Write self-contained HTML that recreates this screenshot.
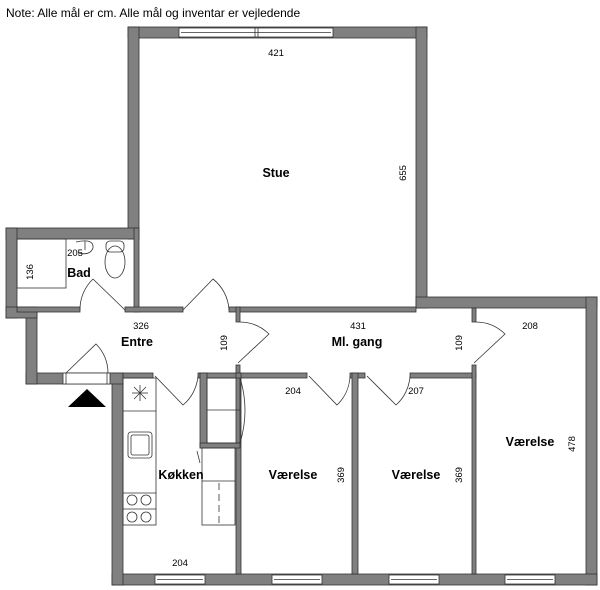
<!DOCTYPE html>
<html><head><meta charset="utf-8"><style>
html,body{margin:0;padding:0;background:#fff;}
svg{display:block;}
text{font-family:"Liberation Sans",sans-serif;fill:#000;}
.l{font-size:12.5px;font-weight:bold;}
.d{font-size:9.5px;}
</style></head><body>
<svg width="600" height="590" viewBox="0 0 600 590" xmlns="http://www.w3.org/2000/svg">
<text x="6" y="17" style="font-size:12px">Note: Alle mål er cm. Alle mål og inventar er vejledende</text>
<g fill="#808080" stroke="#333" stroke-width="0.8">
<rect x="128" y="27" width="299" height="11"/>
<rect x="128" y="27" width="11" height="212"/>
<rect x="416" y="27" width="11" height="281"/>
<rect x="416" y="297" width="181" height="11"/>
<rect x="586" y="297" width="11" height="288"/>
<rect x="112" y="574" width="485" height="11"/>
<rect x="112" y="373" width="11" height="212"/>
<rect x="26" y="373" width="97" height="11"/>
<rect x="26" y="308" width="11" height="76"/>
<rect x="6" y="228" width="133" height="11"/>
<rect x="6" y="228" width="11" height="90"/>
<rect x="6" y="307" width="31" height="11"/>
<rect x="134" y="228" width="5" height="84"/>
<rect x="17" y="307" width="63" height="5"/>
<rect x="125" y="307" width="58" height="5"/>
<rect x="229" y="307" width="187" height="5"/>
<rect x="236" y="307" width="4" height="15"/>
<rect x="236" y="365" width="4" height="13"/>
<rect x="123" y="373" width="30" height="5"/>
<rect x="198" y="373" width="109" height="5"/>
<rect x="350" y="373" width="15" height="5"/>
<rect x="410" y="373" width="66" height="5"/>
<rect x="472" y="308" width="4" height="14"/>
<rect x="472" y="365" width="4" height="209"/>
<rect x="352" y="373" width="6" height="201"/>
<rect x="236" y="373" width="5" height="201"/>
<rect x="200" y="373" width="7" height="75"/>
<rect x="200" y="443" width="40" height="5"/>
</g>
<g fill="#fff" stroke="#333" stroke-width="0.8">
<rect x="179" y="28" width="154" height="9"/>
<line x1="181" y1="32.5" x2="331" y2="32.5"/>
<line x1="255" y1="28" x2="255" y2="37"/><line x1="258" y1="28" x2="258" y2="37"/>
<rect x="155" y="575" width="50" height="9"/><line x1="157" y1="579.5" x2="203" y2="579.5"/>
<rect x="272" y="575" width="50" height="9"/><line x1="274" y1="579.5" x2="320" y2="579.5"/>
<rect x="389" y="575" width="50" height="9"/><line x1="391" y1="579.5" x2="437" y2="579.5"/>
<rect x="505" y="575" width="50" height="9"/><line x1="507" y1="579.5" x2="553" y2="579.5"/>
<rect x="63" y="373" width="47" height="11"/><line x1="66" y1="373" x2="66" y2="384"/><line x1="107" y1="373" x2="107" y2="384"/>
</g>
<polygon points="68,407 87,389 106,407" fill="#000"/>
<g fill="none" stroke="#333" stroke-width="0.8">
<path d="M125,310 L93,279 A42,42 0 0 0 80,310"/>
<path d="M183,310 L213,279 A42,42 0 0 1 229,310"/>
<path d="M238,363 L269,334 A42,42 0 0 0 240,322"/>
<path d="M474,363 L505,334 A42,42 0 0 0 476,322"/>
<path d="M155,376 L183,405 A42,42 0 0 0 198,376"/>
<path d="M309,376 L337,405 A42,42 0 0 0 350,376"/>
<path d="M367,376 L396,405 A42,42 0 0 0 410,376"/>
<path d="M66,373 L96,344 A42,42 0 0 1 108,373"/>
<path d="M240,378 Q250,410 240,443"/>
<line x1="197" y1="451" x2="200" y2="463"/>
<rect x="17" y="239" width="49" height="49"/>
<ellipse cx="115" cy="262" rx="10" ry="16"/>
<rect x="106" y="241" width="18" height="11" rx="4"/>
<path d="M76,242 Q94,238 93,248 Q90,256 78,253"/>
<line x1="85" y1="241" x2="85" y2="250"/>
<rect x="123" y="378" width="33" height="147"/>
<line x1="123" y1="411" x2="156" y2="411"/>
<line x1="123" y1="493" x2="156" y2="493"/>
<line x1="123" y1="509" x2="156" y2="509"/>
<rect x="128" y="432" width="24" height="26" rx="3"/>
<rect x="131" y="435" width="18" height="20" rx="2"/>
<circle cx="132" cy="500" r="5"/><circle cx="146" cy="500" r="5"/>
<circle cx="132" cy="517" r="5"/><circle cx="146" cy="517" r="5"/>
<line x1="132" y1="393" x2="148" y2="393"/><line x1="140" y1="385" x2="140" y2="401"/>
<line x1="134" y1="387" x2="146" y2="399"/><line x1="146" y1="387" x2="134" y2="399"/>
<rect x="207" y="378" width="33" height="65"/>
<line x1="207" y1="410" x2="240" y2="410"/>
<rect x="202" y="448" width="33" height="77"/>
<line x1="202" y1="481" x2="235" y2="481"/>
<line x1="219" y1="483" x2="219" y2="525" stroke-dasharray="7,4"/>
</g>
<g text-anchor="middle">
<text class="d" x="276" y="56">421</text>
<text class="l" x="276" y="177">Stue</text>
<text class="d" x="75" y="256">205</text>
<text class="l" x="79" y="277">Bad</text>
<text class="d" x="141" y="329">326</text>
<text class="l" x="137" y="346">Entre</text>
<text class="d" x="358" y="329">431</text>
<text class="l" x="357" y="346">Ml. gang</text>
<text class="d" x="530" y="329">208</text>
<text class="d" x="293" y="394">204</text>
<text class="d" x="416" y="394">207</text>
<text class="l" x="530" y="446">Værelse</text>
<text class="l" x="181" y="479">Køkken</text>
<text class="l" x="293" y="479">Værelse</text>
<text class="l" x="416" y="479">Værelse</text>
<text class="d" x="180" y="566">204</text>
<text class="d" transform="translate(406,173) rotate(-90)">655</text>
<text class="d" transform="translate(33,272) rotate(-90)">136</text>
<text class="d" transform="translate(227,343) rotate(-90)">109</text>
<text class="d" transform="translate(462,343) rotate(-90)">109</text>
<text class="d" transform="translate(575,444) rotate(-90)">478</text>
<text class="d" transform="translate(344,475) rotate(-90)">369</text>
<text class="d" transform="translate(462,475) rotate(-90)">369</text>
</g>
</svg>
</body></html>
